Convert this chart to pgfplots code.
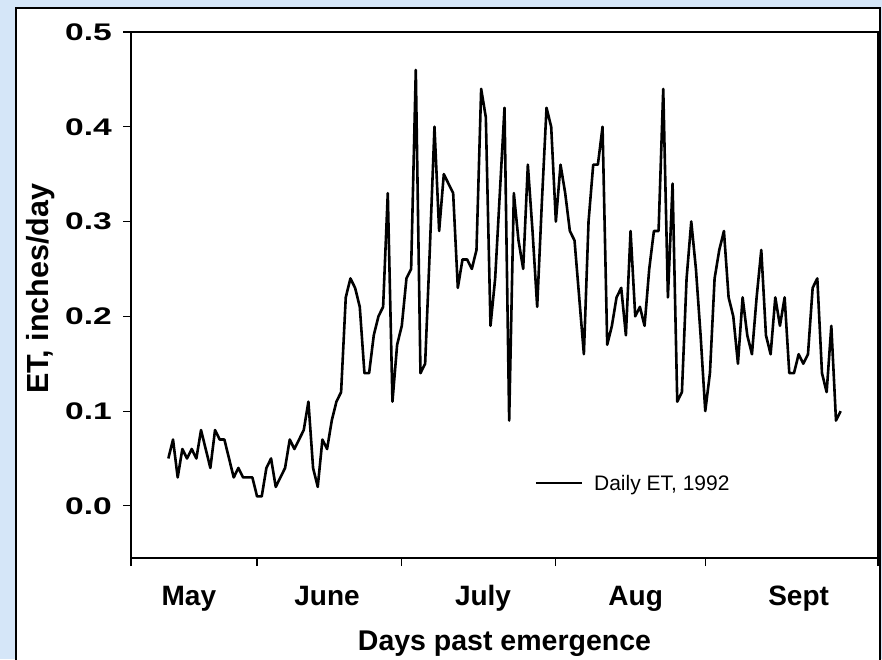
\documentclass[border=0pt]{standalone}
\usepackage{pgfplots}
\pgfplotsset{compat=1.18}
\usepackage{pgfplotstable}
\usepackage{graphicx}
\usepackage{fontspec}
\setmainfont{Liberation Sans}
\definecolor{bgblue}{RGB}{213,230,248}

\pgfplotstableread{
x y
8 0.05
9 0.07
10 0.03
11 0.06
12 0.05
13 0.06
14 0.05
15 0.08
16 0.06
17 0.04
18 0.08
19 0.07
20 0.07
21 0.05
22 0.03
23 0.04
24 0.03
25 0.03
26 0.03
27 0.01
28 0.01
29 0.04
30 0.05
31 0.02
32 0.03
33 0.04
34 0.07
35 0.06
36 0.07
37 0.08
38 0.11
39 0.04
40 0.02
41 0.07
42 0.06
43 0.09
44 0.11
45 0.12
46 0.22
47 0.24
48 0.23
49 0.21
50 0.14
51 0.14
52 0.18
53 0.20
54 0.21
55 0.33
56 0.11
57 0.17
58 0.19
59 0.24
60 0.25
61 0.46
62 0.14
63 0.15
64 0.27
65 0.40
66 0.29
67 0.35
68 0.34
69 0.33
70 0.23
71 0.26
72 0.26
73 0.25
74 0.27
75 0.44
76 0.41
77 0.19
78 0.24
79 0.33
80 0.42
81 0.09
82 0.33
83 0.28
84 0.25
85 0.36
86 0.29
87 0.21
88 0.32
89 0.42
90 0.40
91 0.30
92 0.36
93 0.33
94 0.29
95 0.28
96 0.22
97 0.16
98 0.30
99 0.36
100 0.36
101 0.40
102 0.17
103 0.19
104 0.22
105 0.23
106 0.18
107 0.29
108 0.20
109 0.21
110 0.19
111 0.25
112 0.29
113 0.29
114 0.44
115 0.22
116 0.34
117 0.11
118 0.12
119 0.24
120 0.30
121 0.25
122 0.18
123 0.10
124 0.14
125 0.24
126 0.27
127 0.29
128 0.22
129 0.20
130 0.15
131 0.22
132 0.18
133 0.16
134 0.22
135 0.27
136 0.18
137 0.16
138 0.22
139 0.19
140 0.22
141 0.14
142 0.14
143 0.16
144 0.15
145 0.16
146 0.23
147 0.24
148 0.14
149 0.12
150 0.19
151 0.09
152 0.10
}\etdata

\begin{document}
\begin{tikzpicture}[x=1pt,y=1pt]
\useasboundingbox (0,0) rectangle (882,659);
\fill[bgblue] (0,0) rectangle (882,659);
\filldraw[fill=white,draw=black,line width=2pt] (16,-5) rectangle (879.5,650.7);
\begin{axis}[
  at={(131pt,101pt)}, anchor=south west,
  scale only axis, width=747pt, height=526pt,
  xmin=0, xmax=160, ymin=-0.055, ymax=0.5,
  axis line style={line width=1.8pt},
  every tick/.style={black, line width=1.2pt},
  tick align=outside, tick pos=left,
  major tick length=8pt,
  xtick={0,27,58,91,123,160},
  xticklabels={},
  extra x ticks={12.4,42,75.4,108.1,143},
  extra x tick labels={May,June,July,Aug,Sept},
  extra x tick style={major tick length=0pt,
    xticklabel style={anchor=north, inner sep=0pt, yshift=-27pt,
      text height=20pt, text depth=6pt,
      font=\fontsize{28}{28}\selectfont\bfseries}},
  ytick={0,0.1,0.2,0.3,0.4,0.5},
  yticklabels={\scalebox{1.4}[1]{0.0},\scalebox{1.4}[1]{0.1},\scalebox{1.4}[1]{0.2},\scalebox{1.4}[1]{0.3},\scalebox{1.4}[1]{0.4},\scalebox{1.4}[1]{0.5}},
  yticklabel style={anchor=east, inner sep=0pt, xshift=-11pt,
    font=\fontsize{24}{24}\selectfont\bfseries},
  xlabel={Days past emergence},
  xlabel style={at={(axis description cs:0.5,-0.138)}, anchor=north, inner sep=0pt,
    font=\fontsize{28.5}{28.5}\selectfont\bfseries},
  ylabel={ET, inches/day},
  ylabel style={at={(axis description cs:-0.1215,0.512)}, anchor=center, inner sep=0pt,
    font=\fontsize{30.5}{30.5}\selectfont\bfseries},
  legend style={at={(rel axis cs:0.5408,0.1426)}, anchor=west, draw=none, fill=none,
    inner sep=0pt, font=\fontsize{21}{21}\selectfont,
    nodes={inner sep=0pt, text depth=0pt}},
  legend image code/.code={\draw[line width=1.3pt,black] (0pt,0pt) -- (46pt,0pt); \path (57pt,0pt);},
]
\addplot[black, line width=2.6pt, line join=round] table[x=x,y=y] {\etdata};
\addlegendentry{Daily ET, 1992}
\end{axis}
\end{tikzpicture}
\end{document}
